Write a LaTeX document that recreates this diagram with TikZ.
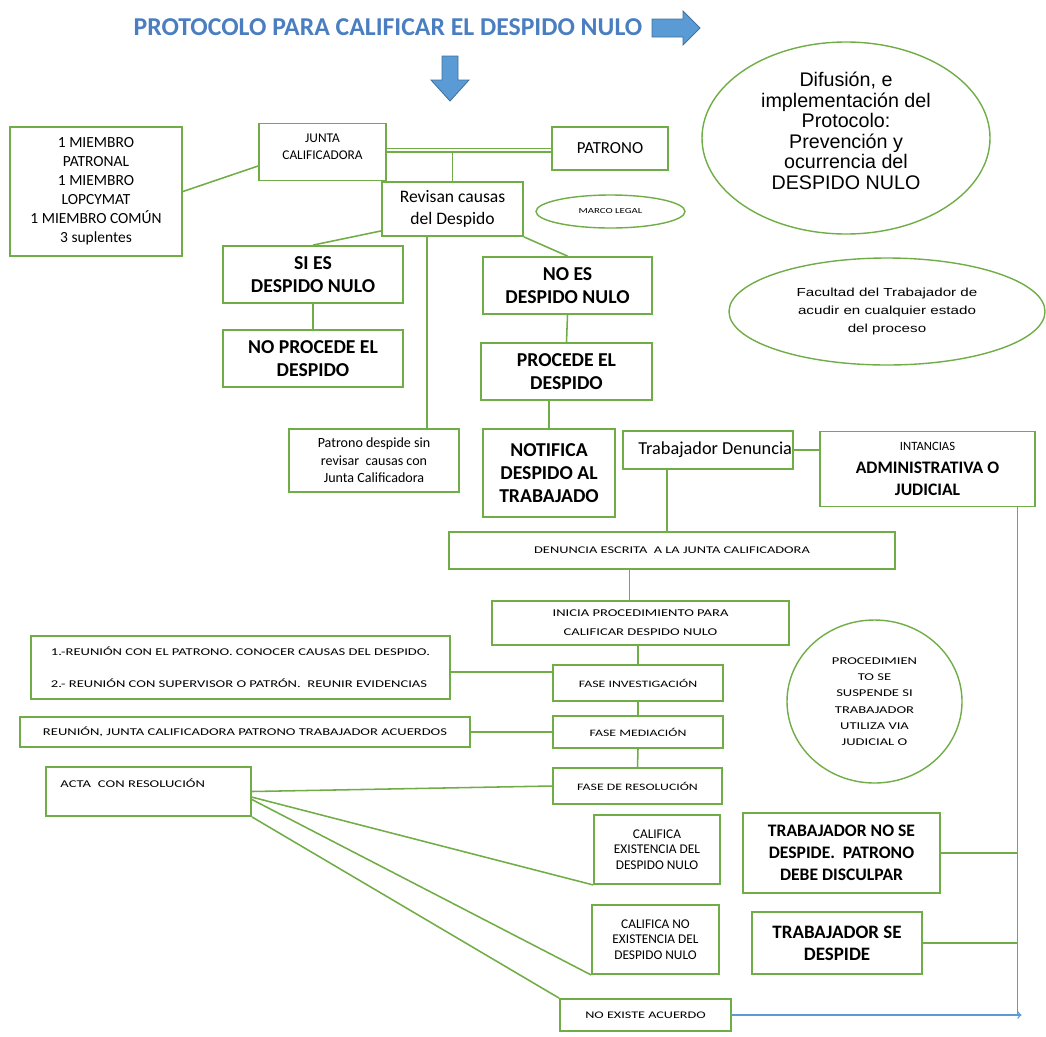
\documentclass[tikz,border=0pt]{standalone}
\usepackage{fontspec}
\setmainfont{Carlito}
\newfontfamily\anchafont[FakeStretch=1.4]{Carlito}
\newfontfamily\arialfont{Liberation Sans}
\newfontfamily\arialancha[FakeStretch=1.3]{Liberation Sans}
\usetikzlibrary{shapes.geometric}
\definecolor{verde}{HTML}{70AD47}
\definecolor{azul}{RGB}{74,126,193}
\definecolor{flecha}{HTML}{5B9BD5}
\definecolor{flechaborde}{HTML}{41719C}

\begin{document}
\begin{tikzpicture}[x=0.25mm,y=-0.25mm,
    caja/.style={draw=verde,line width=1.3pt,inner sep=0pt,align=center},
    elipse/.style={ellipse,draw=verde,line width=1pt,inner sep=0pt,align=center},
    linea/.style={draw=verde,line width=1.1pt}]
    \useasboundingbox (0,0) rectangle (1046,1036);
    % titulo y flechas
    \node[font=\bfseries\fontsize{18.3}{22}\selectfont,text=azul] (titulo) at (388,27) {PROTOCOLO PARA CALIFICAR EL DESPIDO NULO};
    \filldraw[fill=flecha,draw=flechaborde,line width=0.6pt] (652,19) -- (683,19) -- (683,11) -- (700,28) -- (683,45) -- (683,37) -- (652,37) -- cycle;
    \filldraw[fill=flecha,draw=flechaborde,line width=0.6pt] (442,56) -- (458,56) -- (458,80) -- (469,80) -- (450,101) -- (431,80) -- (442,80) -- cycle;
    % parte superior
    \node[caja,minimum width=43mm,minimum height=32.25mm,font=\fontsize{11}{13.5}\selectfont] (miembro) at (96,191.5) {1 MIEMBRO\\PATRONAL\\1 MIEMBRO\\LOPCYMAT\\1 MIEMBRO COMÚN\\3 suplentes};
    \node[caja,minimum width=31.75mm,minimum height=14.25mm,font=\fontsize{9.5}{12}\selectfont] (junta) at (322.5,152) {JUNTA\\CALIFICADORA\\[-5pt]~};
    \node[caja,minimum width=29mm,minimum height=10.75mm,font=\fontsize{12}{14}\selectfont] (patrono) at (610,148.5) {PATRONO};
    \node[caja,minimum width=35.25mm,minimum height=13.5mm,font=\fontsize{12.5}{15.6}\selectfont] (revisan) at (452.5,209) {Revisan causas\\del Despido};
    \node[elipse,minimum width=37.25mm,minimum height=8.25mm,font=\anchafont\fontsize{5.5}{6}\selectfont] (marco) at (610.5,211.5) {MARCO LEGAL};
    \node[elipse,minimum width=72mm,minimum height=48mm,font=\arialfont\fontsize{14}{14.6}\selectfont] (difusion) at (846,138) {Difusión, e\\implementación del\\Protocolo:\\Prevención y\\ocurrencia del\\DESPIDO NULO\\[-4pt]~};
    \node[elipse,minimum width=79mm,minimum height=26.75mm,font=\arialancha\fontsize{8.3}{12.5}\selectfont] (facultad) at (887,311.5) {Facultad del Trabajador de\\acudir en cualquier estado\\del proceso};
    % calificacion
    \node[caja,minimum width=45mm,minimum height=14.25mm,font=\bfseries\fontsize{14}{16.4}\selectfont] (sies) at (313,274.5) {SI ES\\DESPIDO NULO};
    \node[caja,minimum width=45mm,minimum height=14.25mm,font=\bfseries\fontsize{14}{16.4}\selectfont] (noproc) at (313,358.5) {NO PROCEDE EL\\DESPIDO};
    \node[caja,minimum width=42.25mm,minimum height=14.25mm,font=\bfseries\fontsize{14}{16.4}\selectfont] (noes) at (567.5,285.5) {NO ES\\DESPIDO NULO};
    \node[caja,minimum width=42.75mm,minimum height=14.25mm,font=\bfseries\fontsize{14}{16.4}\selectfont] (proc) at (566.5,371.5) {PROCEDE EL\\DESPIDO};
    \node[caja,minimum width=33mm,minimum height=22mm,font=\bfseries\fontsize{14}{16.4}\selectfont] (notif) at (549,473) {NOTIFICA\\DESPIDO AL\\TRABAJADO};
    \node[caja,minimum width=42.5mm,minimum height=15.75mm,font=\fontsize{10}{12.4}\selectfont] (patdesp) at (374,460.5) {Patrono despide sin\\revisar~ causas con\\Junta Calificadora};
    \node[caja,minimum width=42.5mm,minimum height=9.5mm,text width=42mm,align=flush right,font=\fontsize{13}{15}\selectfont] (trabden) at (708,450) {Trabajador Denuncia};
    \node[caja,minimum width=53.75mm,minimum height=18.75mm,font=\bfseries\fontsize{12.5}{16}\selectfont] (instancias) at (927.5,469) {{\mdseries\fontsize{9}{10}\selectfont INTANCIAS}\\ADMINISTRATIVA O\\JUDICIAL};
    % procedimiento
    \node[caja,minimum width=111.5mm,minimum height=9.25mm,font=\anchafont\fontsize{7.3}{9}\selectfont] (denuncia) at (672,550.5) {DENUNCIA ESCRITA~ A LA JUNTA CALIFICADORA};
    \node[caja,minimum width=74.25mm,minimum height=11mm,font=\anchafont\fontsize{7.4}{13.5}\selectfont] (inicia) at (640.5,623) {INICIA PROCEDIMIENTO PARA\\CALIFICAR DESPIDO NULO};
    \node[caja,minimum width=104.75mm,minimum height=15.75mm,align=left,font=\anchafont\fontsize{7.4}{22.8}\selectfont] (reunion) at (240.5,667.5) {1.-REUNIÓN CON EL PATRONO. CONOCER CAUSAS DEL DESPIDO.\\2.- REUNIÓN CON SUPERVISOR O PATRÓN.~ REUNIR EVIDENCIAS};
    \node[caja,minimum width=42.5mm,minimum height=9mm,font=\anchafont\fontsize{7}{9}\selectfont] (faseinv) at (638,683) {FASE INVESTIGACIÓN};
    \node[caja,minimum width=112.5mm,minimum height=7.5mm,align=left,font=\anchafont\fontsize{7.4}{9}\selectfont] (acuerdos) at (245,732) {REUNIÓN, JUNTA CALIFICADORA PATRONO TRABAJADOR ACUERDOS};
    \node[caja,minimum width=42.5mm,minimum height=8mm,font=\anchafont\fontsize{7}{9}\selectfont] (fasemed) at (638,732) {FASE MEDIACIÓN};
    \node[caja,minimum width=42.25mm,minimum height=9mm,font=\anchafont\fontsize{7}{9}\selectfont] (faseres) at (637.5,786) {FASE DE RESOLUCIÓN};
    \node[caja,minimum width=51.25mm,minimum height=12.25mm,text width=44mm,align=left,font=\anchafont\fontsize{7.4}{12}\selectfont] (acta) at (148.5,791.5) {ACTA~ CON RESOLUCIÓN\\~};
    \node[caja,minimum width=31.5mm,minimum height=17.25mm,font=\fontsize{9.5}{11}\selectfont] (calsi) at (657,849.5) {CALIFICA\\EXISTENCIA DEL\\DESPIDO NULO};
    \node[caja,minimum width=31.75mm,minimum height=17.25mm,font=\fontsize{9.5}{11}\selectfont] (calno) at (655.5,939.5) {CALIFICA NO\\EXISTENCIA DEL\\DESPIDO NULO};
    \node[caja,minimum width=42.75mm,minimum height=8mm,font=\anchafont\fontsize{7.2}{9}\selectfont] (noacuerdo) at (645.5,1015) {NO EXISTE ACUERDO};
    \node[elipse,minimum width=43.75mm,minimum height=40.75mm,font=\anchafont\fontsize{7.4}{11.6}\selectfont] (suspende) at (874.5,701.5) {PROCEDIMIEN\\TO SE\\SUSPENDE SI\\TRABAJADOR\\UTILIZA VIA\\JUDICIAL O};
    \node[caja,minimum width=49.25mm,minimum height=20mm,font=\bfseries\fontsize{12.5}{15.6}\selectfont] (nodespide) at (841.5,853) {TRABAJADOR NO SE\\DESPIDE.~ PATRONO\\DEBE DISCULPAR};
    \node[caja,minimum width=42.5mm,minimum height=15.5mm,font=\bfseries\fontsize{13.5}{15.6}\selectfont] (sedespide) at (837,943) {TRABAJADOR SE\\DESPIDE};
    % conexiones
    \draw[linea] (miembro.east) -- ([yshift=-3.5mm]junta.west);
    \draw[linea] (junta.east) -- (junta.east -| patrono.west);
    \draw[linea] ([yshift=0.9mm]junta.east) -- ([yshift=0.9mm]junta.east -| patrono.west);
    \draw[linea] (revisan.north) -- (revisan.north |- junta.east);
    \draw[linea] ([yshift=1.5mm]revisan.south west) -- (sies.north);
    \draw[linea] (revisan.south east) -- (noes.north);
    \coordinate (rv) at ([xshift=-6.4mm]revisan.south);
    \draw[linea] (rv) -- (rv |- patdesp.north);
    \draw[linea] (sies.south) -- (noproc.north);
    \draw[linea] (noes.south) -- (proc.north);
    \draw[linea] (notif.north) -- (notif.north |- proc.south);
    \draw[linea] (trabden.east) -- (trabden.east -| instancias.west);
    \coordinate (td) at ([xshift=-10.25mm]trabden.south);
    \draw[linea] (td) -- (td |- denuncia.north);
    \coordinate (dn) at ([xshift=-2.75mm]inicia.north);
    \draw[linea] (dn) -- (dn |- denuncia.south);
    \draw[linea] (faseinv.north) -- (faseinv.north |- inicia.south);
    \draw[linea] (faseinv.south) -- (fasemed.north);
    \draw[linea] (fasemed.south) -- (faseres.north);
    \draw[linea] ([yshift=-1.1mm]reunion.east) -- ([yshift=-1.1mm]reunion.east -| faseinv.west);
    \draw[linea] (acuerdos.east) -- (fasemed.west);
    \draw[linea] (acta.east) -- (faseres.west);
    \draw[linea] ([yshift=-1.4mm]acta.east) -- (calsi.south west);
    \draw[linea] ([yshift=-2mm]acta.east) -- (calno.south west);
    \draw[linea] (acta.south east) -- (noacuerdo.north west);
    \coordinate (vj) at ([xshift=22.5mm]instancias.south);
    \draw[linea] (vj) -- (vj |- noacuerdo.east);
    \draw[linea] (nodespide.east) -- (nodespide.east -| vj);
    \draw[linea] (sedespide.east) -- (sedespide.east -| vj);
    \draw[flecha,line width=1pt,->] (noacuerdo.east) -- ([xshift=1mm]noacuerdo.east -| vj);
\end{tikzpicture}
\end{document}
